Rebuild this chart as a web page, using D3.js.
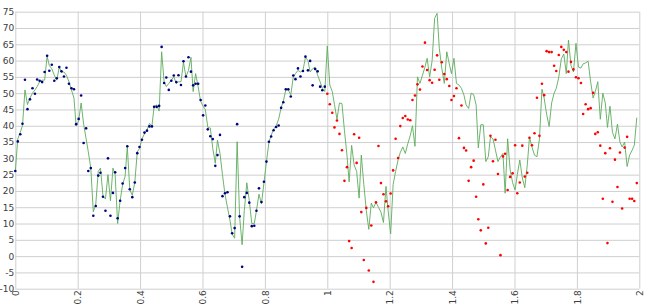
<!DOCTYPE html>
<html>
<head>
<meta charset="utf-8">
<script src="https://cdn.jsdelivr.net/npm/d3@7"></script>
<style>
  body { margin: 0; background: #fff; }
  #chart text { font-family: "DejaVu Sans", sans-serif; font-size: 9px; fill: #3c3c3c; }
</style>
</head>
<body>
<div id="chart"></div>
<script>
// sample positions of the first half (blue) and second half (red)
const blueX = [
  0, .008, .016, .023, .031, .039, .047, .055, .063, .070, .078, .086, .094, .102, .109, .117,
  .125, .133, .141, .148, .156, .164, .172, .180, .188, .195, .203, .211, .219, .227, .234, .242,
  .25, .258, .266, .273, .281, .289, .297, .305, .313, .320, .328, .336, .344, .352, .359, .367,
  .375, .383, .391, .398, .406, .414, .422, .430, .438, .445, .453, .461, .469, .477, .484, .492,
  .5, .508, .516, .523, .531, .539, .547, .555, .563, .570, .578, .586, .594, .602, .609, .617,
  .625, .633, .641, .648, .656, .664, .672, .680, .688, .695, .703, .711, .719, .727, .734, .742,
  .75, .758, .766, .773, .781, .789, .797, .805, .813, .820, .828, .836, .844, .852, .859, .867,
  .875, .883, .891, .898, .906, .914, .922, .930, .938, .945, .953, .961, .969, .977, .984, .992
];
const redX = [
  1, 1.008, 1.016, 1.023, 1.031, 1.039, 1.047, 1.055, 1.063, 1.070, 1.078, 1.086, 1.094, 1.102, 1.109, 1.117,
  1.125, 1.133, 1.141, 1.148, 1.156, 1.164, 1.172, 1.180, 1.188, 1.195, 1.203, 1.211, 1.219, 1.227, 1.234, 1.242,
  1.25, 1.258, 1.266, 1.273, 1.281, 1.289, 1.297, 1.305, 1.313, 1.320, 1.328, 1.336, 1.344, 1.352, 1.359, 1.367,
  1.375, 1.383, 1.391, 1.398, 1.406, 1.414, 1.422, 1.430, 1.438, 1.445, 1.453, 1.461, 1.469, 1.477, 1.484, 1.492,
  1.5, 1.508, 1.516, 1.523, 1.531, 1.539, 1.547, 1.555, 1.563, 1.570, 1.578, 1.586, 1.594, 1.602, 1.609, 1.617,
  1.625, 1.633, 1.641, 1.648, 1.656, 1.664, 1.672, 1.680, 1.688, 1.695, 1.703, 1.711, 1.719, 1.727, 1.734, 1.742,
  1.75, 1.758, 1.766, 1.773, 1.781, 1.789, 1.797, 1.805, 1.813, 1.820, 1.828, 1.836, 1.844, 1.852, 1.859, 1.867,
  1.875, 1.883, 1.891, 1.898, 1.906, 1.914, 1.922, 1.930, 1.938, 1.945, 1.953, 1.961, 1.969, 1.977, 1.984, 1.992
];

const blueY = [
  26.1, 35.2, 37.4, 40.6, 54.1, 45.1, 48.1, 51.5, 49.8, 54.2,
  53.8, 53.4, 56.5, 61.5, 56.9, 58.7, 53.8, 54.6, 58.0, 56.7,
  55.1, 57.8, 52.9, 51.5, 51.2, 40.5, 42.1, 49.3, 34.7, 39.2,
  26.1, 27.0, 12.4, 15.4, 24.7, 25.6, 18.2, 13.9, 30.0, 12.4,
  19.4, 25.7, 11.6, 17.0, 22.3, 27.0, 33.7, 20.5, 18.1, 22.6,
  31.6, 33.5, 35.7, 37.9, 38.5, 39.8, 39.8, 45.8, 45.8, 46.1,
  64.2, 53.1, 54.8, 51.0,
  53.8, 55.4, 53.4, 55.5, 52.5, 59.8, 55.1, 61.0, 56.6, 52.4,
  52.9, 52.9, 47.9, 43.2, 46.2, 38.9, 36.8, 35.9, 27.7, 31.0,
  37.2, 18.4, 19.3, 19.6, 12.2, 7.0, 8.6, 40.5, 12.2, -3.3,
  18.1, 19.4, 16.4, 9.2, 9.3, 13.9, 20.8, 16.6, 22.8, 29.0,
  35.1, 36.7, 38.6, 39.6, 40.1, 45.5, 47.2, 51.2, 51.2, 49.0,
  55.4, 54.3, 57.6, 55.1, 56.8, 61.2, 57.0, 59.9, 52.4, 57.4,
  56.7, 52.0, 50.9, 52.0
];

const redY = [
  49.8, 46.6, 44.0, 39.5, 41.6, 37.5, 32.5, 23.1, 27.3, 4.6,
  2.5, 37.4, 28.6, 36.3, 13.5, -1.2, 14.8, -4.4, 9.4, -7.9,
  16.5, 33.8, 22.4, 19.0, 16.8, 15.3, 19.2, 26.3, 36.0, 30.1,
  39.9, 42.4, 43.0, 41.9, 41.7, 47.9, 49.3, 52.7, 51.1, 58.2,
  65.5, 57.1, 54.0, 53.2, 57.2, 61.6, 54.1, 59.5, 55.9, 54.3,
  52.2, 47.9, 49.1, 51.5, 36.2, 46.2, 33.2, 32.4, 23.1, 27.3,
  29.3, 18.2, 11.3, 7.9, 22.0, 3.9, 8.7, 36.9, 29.1, 35.7,
  25.2, 0.3, 30.6, 31.4, 20.3, 24.3, 25.4, 34.0, 19.3, 22.6,
  33.9, 24.4, 25.6, 36.3, 34.0, 37.7, 48.6, 36.9, 52.9, 49.4,
  62.9, 62.6, 62.6, 58.4, 56.8, 61.7, 64.2, 63.3, 62.6, 56.6,
  59.6, 57.3, 54.9, 54.6, 53.1, 43.6, 46.6, 45.1, 45.4, 50.1,
  37.5, 38.0, 33.9, 17.6, 31.6, 4.0, 33.1, 16.7, 29.6, 21.2,
  31.8, 14.6, 33.3, 36.6, 17.6, 17.6, 16.9, 22.4
];

// green line, one value per sample over the whole range
const lineY = [
  26, 36, 38, 40, 51, 46.5, 48.5, 50, 51, 52,
  53.5, 54, 54, 61.3, 58.5, 57.5, 55.5, 54, 58, 56.5,
  56.5, 55.5, 53.5, 51, 48.5, 40, 41.5, 47, 40.5, 36,
  32, 27, 13.6, 16, 26, 27, 18.5, 17.5, 25, 17,
  27, 25, 10, 17, 22, 24.5, 33.6, 20.3, 18.7, 22.6,
  32, 33, 36, 37.5, 38.7, 40.7, 40, 45.9, 46.4, 44.5,
  62.7, 53.5, 52, 53, 54, 55, 53, 53.5, 53.5, 59.5,
  55, 57, 61, 50.5, 56, 52, 47.5, 46, 45, 39.5,
  39.3, 33, 28.5, 35.6, 31.5, 25, 19, 15, 11, 6.8,
  5.5, 35.1, 12, 3.5, 14, 22.5, 17, 10, 10, 14,
  19, 16, 22.5, 29, 35, 37, 39, 40, 42, 45.5,
  47.5, 51, 51, 49.5, 55, 56, 57, 56.5, 57, 61,
  60, 56.5, 57.5, 58, 55.5, 53.5, 51.5, 50.5,
  64.5, 52.5, 50.5, 46.5, 42, 47, 46.8, 38.5, 31, 22.8,
  34, 28, 26, 17.8, 31, 22, 14, 8.2, 16.3, 14.8,
  16.5, 15, 13.5, 10.3, 21.4, 14, 6.8, 22, 26, 29.6,
  31.8, 33.5, 31.5, 34.5, 37, 40, 33.7, 55, 53, 55.5,
  58, 60.7, 55, 60, 73, 74.5, 63.8, 57.6, 53, 62.7,
  59, 56, 60.7, 53, 52.5, 51.5, 49.4, 46.4, 45.3, 50,
  49.6, 46.4, 33.2, 40.3, 40.3, 29, 30.5, 36.6, 36, 32.5,
  29, 30.5, 31.5, 19.3, 36, 26.5, 22.5, 20.3, 25, 29.5,
  24, 21, 28, 36.5, 33.5, 31, 30.5, 36, 51.2, 48.5,
  43.5, 39.8, 47, 50, 51.5, 55, 60.5, 62, 56, 66.3,
  58.5, 56.5, 65.3, 58, 57.7, 59, 59.3, 59.8, 53.5, 48.5,
  50.5, 53.5, 42, 50, 47, 39.5, 46, 38, 36, 40.5,
  35, 33.5, 35, 27.5, 31, 32.5, 34, 42.5
];

const xTicks = [0, 0.2, 0.4, 0.6, 0.8, 1, 1.2, 1.4, 1.6, 1.8, 2];
const xTickLabels = ["0", "0.2", "0.4", "0.6", "0.8", "1", "1.2", "1.4", "1.6", "1.8", "2"];
const yTicks = [-10, -5, 0, 5, 10, 15, 20, 25, 30, 35, 40, 45, 50, 55, 60, 65, 70, 75];

const margin = {top: 11.7, right: 11.7, bottom: 16.3, left: 15.3},
  width = 651 - margin.left - margin.right,
  height = 305 - margin.top - margin.bottom;

const svg = d3.select("#chart")
  .append("svg")
  .attr("width", width + margin.left + margin.right)
  .attr("height", height + margin.top + margin.bottom)
  .append("g")
  .attr("transform", `translate(${margin.left}, ${margin.top})`);

const x = d3.scaleLinear().domain([0, 2]).range([0, width]);
const y = d3.scaleLinear().domain([-10, 75]).range([height, 0]);

// horizontal grid + y labels
const yAxis = svg.append("g")
  .call(d3.axisLeft(y).tickValues(yTicks).tickSize(-width).tickPadding(1).tickFormat(d => d));
yAxis.select(".domain").remove();
yAxis.selectAll("line").attr("stroke", "#cfcfcf");

// vertical grid + rotated x labels
const xAxis = svg.append("g")
  .attr("transform", `translate(0, ${height})`)
  .call(d3.axisBottom(x).tickValues(xTicks).tickSize(height).tickFormat((d, i) => xTickLabels[i]));
xAxis.select(".domain").remove();
xAxis.selectAll("line")
  .attr("y2", -height)
  .attr("stroke", "#cfcfcf");
xAxis.selectAll("text")
  .attr("transform", "rotate(-90)")
  .attr("x", -1.5)
  .attr("y", 0)
  .attr("dy", "0.35em")
  .style("text-anchor", "end");

// green line
const lineX = blueX.concat(redX);
const lineData = lineX.map((d, i) => [d, lineY[i]]);
svg.append("path")
  .datum(lineData)
  .attr("fill", "none")
  .attr("stroke", "#5cab5c")
  .attr("stroke-width", 0.9)
  .attr("d", d3.line().x(d => x(d[0])).y(d => y(d[1])));

// blue dots
svg.selectAll(".blue")
  .data(blueX.map((d, i) => [d, blueY[i]]))
  .join("circle")
  .attr("class", "blue")
  .attr("cx", d => x(d[0]))
  .attr("cy", d => y(d[1]))
  .attr("r", 1.3)
  .attr("fill", "#000080");

// red dots
svg.selectAll(".red")
  .data(redX.map((d, i) => [d, redY[i]]))
  .join("circle")
  .attr("class", "red")
  .attr("cx", d => x(d[0]))
  .attr("cy", d => y(d[1]))
  .attr("r", 1.3)
  .attr("fill", "#ff0000");
</script>
</body>
</html>
